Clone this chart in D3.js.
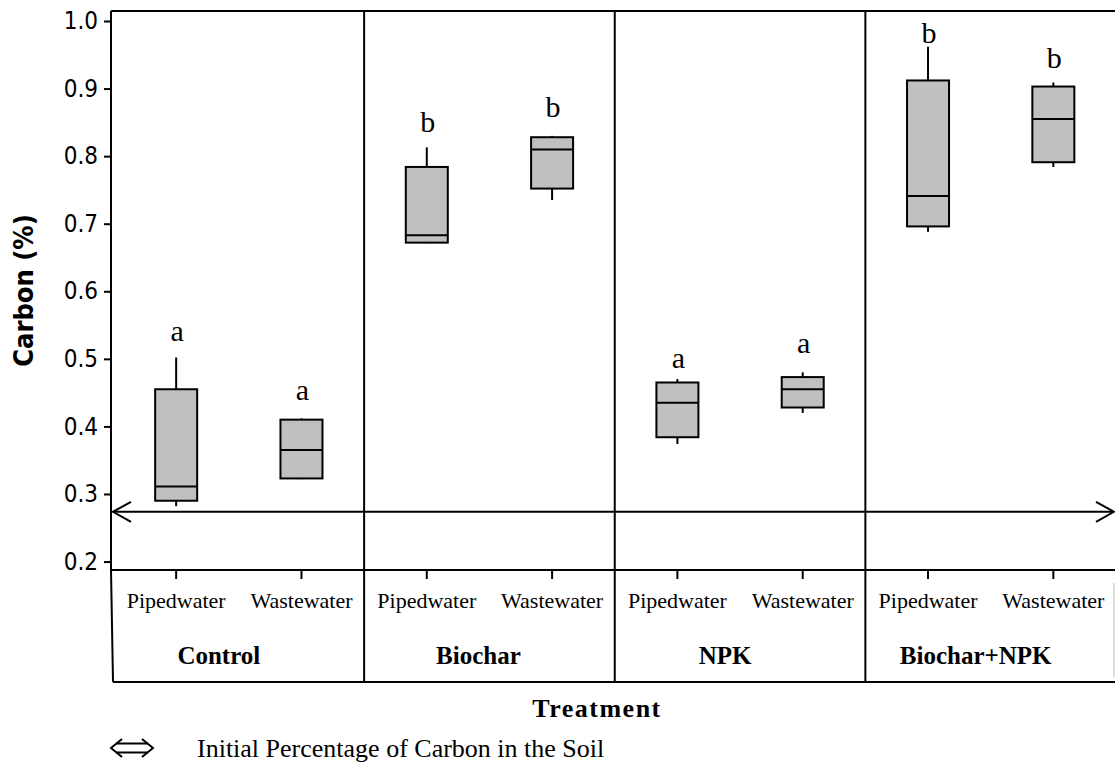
<!DOCTYPE html>
<html lang="en">
<head>
<meta charset="UTF-8">
<title>Carbon (%) by treatment</title>
<style>
  html, body { margin: 0; padding: 0; background: #fff; }
  svg { display: block; }
</style>
</head>
<body>
<svg></svg>
<script src="https://cdn.jsdelivr.net/npm/d3@7/dist/d3.min.js"></script>
<script>
    // groups and water types
    const groups = ["Control", "Biochar", "NPK", "Biochar+NPK"];
    const waters = ["Pipedwater", "Wastewater"];

    // box statistics, one value per group x water (in order)
    const whiskerLow  = [0.282, 0.322, 0.671, 0.735, 0.374, 0.420, 0.688, 0.784];
    const q1          = [0.290, 0.323, 0.672, 0.752, 0.384, 0.428, 0.696, 0.791];
    const median      = [0.311, 0.365, 0.683, 0.810, 0.435, 0.455, 0.741, 0.855];
    const q3          = [0.455, 0.410, 0.784, 0.828, 0.465, 0.473, 0.912, 0.903];
    const whiskerHigh = [0.502, 0.412, 0.813, 0.830, 0.470, 0.480, 0.962, 0.909];

    // significance letters and the value where each sits
    const letters   = ["a", "a", "b", "b", "a", "a", "b", "b"];
    const letterAt  = [0.527, 0.439, 0.836, 0.858, 0.486, 0.508, 0.967, 0.930];

    const yTicks = [0.2, 0.3, 0.4, 0.5, 0.6, 0.7, 0.8, 0.9, 1.0];
    const initialCarbon = 0.2737;

    const W = 1115, H = 767;
    const mLeft = 111, mTop = 11, mBottom = 570, labelBottom = 682, mRight = 1115;

    const keys = [];
    groups.forEach(g => waters.forEach(w => keys.push(g + "|" + w)));
    const rows = keys.map((k, i) => ({
        key: k, group: k.split("|")[0], water: k.split("|")[1],
        lo: whiskerLow[i], q1: q1[i], med: median[i], q3: q3[i], hi: whiskerHigh[i],
        letter: letters[i], letterAt: letterAt[i]
    }));

    const x = d3.scaleBand().domain(keys).range([113.5, 1116]).padding(0);
    const xg = d3.scaleBand().domain(groups).range([113.5, 1116]).padding(0);
    const y = d3.scaleLinear().domain([0.1875, 1.0148]).range([mBottom, mTop]);
    const boxW = 42;

    const svg = d3.select("svg")
        .attr("width", W)
        .attr("height", H)
        .attr("viewBox", `0 0 ${W} ${H}`);

    const serif = "'Liberation Serif', 'Times New Roman', serif";
    const sans = "'DejaVu Sans Condensed', 'DejaVu Sans', sans-serif";

    // y axis
    const yAxis = svg.append("g")
        .attr("transform", `translate(${mLeft},0)`)
        .call(d3.axisLeft(y).tickValues(yTicks).tickFormat(d3.format(".1f")).tickSize(7).tickPadding(6));
    yAxis.select(".domain").remove();
    yAxis.selectAll(".tick line").attr("stroke", "#000").attr("stroke-width", 2);
    yAxis.selectAll(".tick text")
        .attr("font-family", sans).attr("font-size", 24).attr("fill", "#000");

    svg.append("text")
        .attr("transform", `translate(33,${(mTop + mBottom) / 2}) rotate(-90)`)
        .attr("text-anchor", "middle")
        .attr("font-family", sans).attr("font-weight", "bold").attr("font-size", 27)
        .text("Carbon (%)");

    // frame
    const frame = svg.append("g").attr("stroke", "#000").attr("stroke-width", 2).attr("fill", "none");
    frame.append("line").attr("x1", mLeft).attr("x2", mLeft).attr("y1", mTop).attr("y2", mBottom);
    frame.append("line").attr("x1", mLeft).attr("x2", mRight).attr("y1", mTop).attr("y2", mTop);
    frame.append("line").attr("x1", mLeft).attr("x2", mRight).attr("y1", mBottom).attr("y2", mBottom);
    frame.append("line").attr("x1", mLeft).attr("x2", mLeft + 2).attr("y1", mBottom).attr("y2", labelBottom);
    frame.append("line").attr("x1", mLeft + 2).attr("x2", mRight).attr("y1", labelBottom).attr("y2", labelBottom);
    frame.selectAll("line.div")
        .data(groups.slice(1))
        .join("line")
        .attr("class", "div")
        .attr("x1", d => xg(d)).attr("x2", d => xg(d))
        .attr("y1", mTop).attr("y2", labelBottom);
    svg.append("line")
        .attr("x1", 1114).attr("x2", 1114).attr("y1", 583).attr("y2", 677)
        .attr("stroke", "#bbb").attr("stroke-width", 1);

    // category ticks and labels
    svg.append("g").selectAll("line")
        .data(rows)
        .join("line")
        .attr("x1", d => x(d.key) + x.bandwidth() / 2)
        .attr("x2", d => x(d.key) + x.bandwidth() / 2)
        .attr("y1", mBottom).attr("y2", mBottom + 9)
        .attr("stroke", "#000").attr("stroke-width", 2);

    svg.append("g").selectAll("text")
        .data(rows)
        .join("text")
        .attr("x", d => x(d.key) + x.bandwidth() / 2)
        .attr("y", 608)
        .attr("text-anchor", "middle")
        .attr("font-family", serif).attr("font-size", 22)
        .text(d => d.water);

    const groupShift = [-20, -11, -15, -15];
    svg.append("g").selectAll("text")
        .data(groups)
        .join("text")
        .attr("x", (d, i) => xg(d) + xg.bandwidth() / 2 + groupShift[i])
        .attr("y", 664)
        .attr("text-anchor", "middle")
        .attr("font-family", serif).attr("font-weight", "bold").attr("font-size", 25)
        .text(d => d);

    svg.append("text")
        .attr("x", 597).attr("y", 717)
        .attr("text-anchor", "middle")
        .attr("font-family", serif).attr("font-weight", "bold").attr("font-size", 26)
        .attr("letter-spacing", 1.5)
        .text("Treatment");

    // initial carbon line with open arrow heads
    const ya = y(initialCarbon);
    const arrow = svg.append("g").attr("stroke", "#000").attr("stroke-width", 2).attr("fill", "none");
    arrow.append("line").attr("x1", mLeft + 2).attr("x2", mRight - 2).attr("y1", ya).attr("y2", ya);
    arrow.append("path").attr("d", `M${mLeft + 20},${ya - 10}L${mLeft + 2},${ya}L${mLeft + 20},${ya + 10}`);
    arrow.append("path").attr("d", `M${mRight - 19},${ya - 10}L${mRight - 1},${ya}L${mRight - 19},${ya + 10}`);

    // boxes
    const box = svg.append("g").selectAll("g")
        .data(rows)
        .join("g")
        .attr("transform", d => `translate(${x(d.key) + x.bandwidth() / 2},0)`)
        .attr("stroke", "#000").attr("stroke-width", 2);

    box.append("line").attr("y1", d => y(d.hi)).attr("y2", d => y(d.q3));
    box.append("line").attr("y1", d => y(d.q1)).attr("y2", d => y(d.lo));
    box.append("rect")
        .attr("x", -boxW / 2).attr("width", boxW)
        .attr("y", d => y(d.q3)).attr("height", d => y(d.q1) - y(d.q3))
        .attr("fill", "#c0c0c0");
    box.append("line")
        .attr("x1", -boxW / 2).attr("x2", boxW / 2)
        .attr("y1", d => y(d.med)).attr("y2", d => y(d.med));

    box.append("text")
        .attr("y", d => y(d.letterAt))
        .attr("x", 1)
        .attr("stroke", "none").attr("fill", "#000")
        .attr("text-anchor", "middle")
        .attr("font-family", serif).attr("font-size", 30)
        .text(d => d.letter);

    // legend
    const lg = svg.append("g").attr("transform", "translate(110,748)")
        .attr("stroke", "#000").attr("stroke-width", 2).attr("fill", "none");
    lg.append("path").attr("d", "M12,-9L1,0L12,9M32,-9L43,0L32,9");
    lg.append("path").attr("d", "M6,-4.5H38M6,4.5H38");
    svg.append("text")
        .attr("x", 197).attr("y", 757)
        .attr("font-family", serif).attr("font-size", 26)
        .text("Initial Percentage of Carbon in the Soil");
</script>
</body>
</html>
